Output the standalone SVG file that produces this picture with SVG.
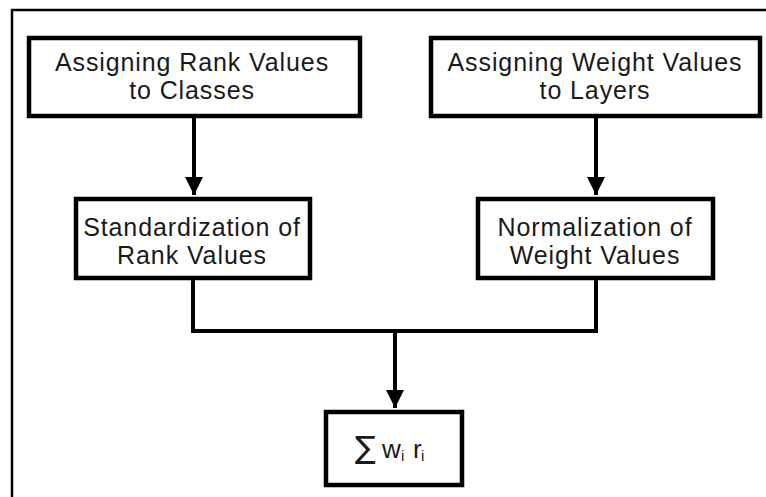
<svg xmlns="http://www.w3.org/2000/svg" width="766" height="497" viewBox="0 0 766 497">
<style>
.box{fill:#fff;stroke:#000;stroke-width:4.5}
.lbl{font-family:"Liberation Sans",Arial,sans-serif;font-size:25px;letter-spacing:0.9px;fill:#1a1a1a;text-anchor:middle}
.math{font-family:"Liberation Sans",Arial,sans-serif;font-size:26px;fill:#1a1a1a}
.sub{font-size:15px}
.con{fill:none;stroke:#000;stroke-width:4}
.frame{fill:none;stroke:#000;stroke-width:2.5}
</style>
<defs>
<marker id="ah" markerUnits="userSpaceOnUse" markerWidth="20" markerHeight="20" viewBox="0 0 20 20" refX="18" refY="10" orient="auto">
<path d="M0,1 L18,10 L0,19 Z" fill="#000"/>
</marker>
</defs>
<path class="frame" d="M12,497 L12,10 L766,10"/>
<g id="connectors">
<path class="con" d="M194,118 L194,195" marker-end="url(#ah)"/>
<path class="con" d="M596,118 L596,195" marker-end="url(#ah)"/>
<path class="con" d="M193,280 L193,331 L596,331 L596,280"/>
<path class="con" d="M395,331 L395,408" marker-end="url(#ah)"/>
</g>
<g id="rank">
<rect class="box" x="29" y="38" width="331" height="78"/>
<text class="lbl" x="192" y="71">Assigning Rank Values</text>
<text class="lbl" x="192" y="99">to Classes</text>
</g>
<g id="weight">
<rect class="box" x="431" y="38" width="329" height="78"/>
<text class="lbl" x="595" y="71">Assigning Weight Values</text>
<text class="lbl" x="595" y="99">to Layers</text>
</g>
<g id="standard">
<rect class="box" x="76" y="199" width="234" height="79"/>
<text class="lbl" x="192" y="236">Standardization of</text>
<text class="lbl" x="192" y="264">Rank Values</text>
</g>
<g id="normal">
<rect class="box" x="478" y="199" width="235" height="79"/>
<text class="lbl" x="595" y="236">Normalization of</text>
<text class="lbl" x="595" y="264">Weight Values</text>
</g>
<g id="sum">
<rect class="box" x="326" y="412" width="136" height="73"/>
<text class="math" x="355" y="458"><tspan font-family="DejaVu Sans" font-size="31">∑</tspan><tspan x="382">w</tspan><tspan class="sub" x="401" y="461">i</tspan><tspan x="413" y="458">r</tspan><tspan class="sub" x="421" y="461">i</tspan></text>
</g>
</svg>
